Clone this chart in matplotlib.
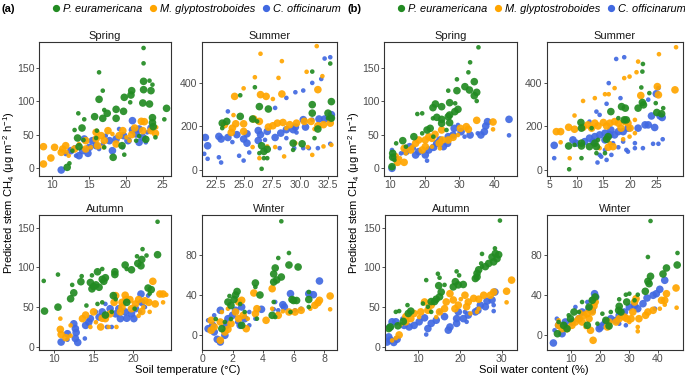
import numpy as np
import matplotlib.pyplot as plt
from matplotlib.lines import Line2D

plt.rcParams['font.family'] = ['Liberation Sans', 'DejaVu Sans']
plt.rcParams['mathtext.fontset'] = 'custom'
plt.rcParams['mathtext.rm'] = 'Liberation Sans'
plt.rcParams['mathtext.it'] = 'Liberation Sans:italic'

species = ['P. euramericana', 'M. glyptostroboides', 'C. officinarum']
colors = ['#228B22', '#FFA500', '#4169E1']
seasons = ['Spring', 'Summer', 'Autumn', 'Winter']

# (x, y, big point?)
# ---- (a) soil temperature ----
a_spring_pe = [(22.4,180,0),(22.4,157,0),(16.4,143.5,0),(22.4,130,1),(23.2,131,0),(23.6,125,0),(22.4,117.5,1),(23.4,116,1),(20.8,116,1),(20.7,109.5,1),(16.9,116,0),(19.8,106,1),(20.6,98.5,0),(16.4,103,1),(22.3,97.5,1),(23.2,96,1),(25.5,89.5,1),(17.1,87,0),(17.5,82,1),(18.7,88,1),(19.7,85,1),(13.6,82,0),(14.4,73,0),(15.8,77,1),(16.9,74.5,1),(18.7,74.5,1),(23.6,75.5,1),(25.2,73,0),(23.6,68,1),(23.7,62,1),(14.1,60,1),(13.1,57,0),(16.1,56,0),(13.5,45,1),(14.3,42,0),(22.7,43,1),(24.0,46,0),(18.3,16,1),(19.8,20,0),(12.1,1,1),(12.4,7,0),(21.4,41,0),(19.5,33.5,1),(17.1,31,0),(12.8,26,0),(13.7,32,1),(21.8,48,0),(16.0,45,0)]
a_spring_mg = [(8.9,32,1),(8.9,6,1),(9.9,15,1),(10.4,31,1),(11.3,23.5,1),(11.5,28.5,1),(11.9,33.5,1),(12.3,18.5,0),(13.1,28.5,1),(14.6,28.5,1),(14.6,41,1),(16.0,43.5,1),(16.0,53.5,1),(16.7,48.5,1),(17.1,41,1),(17.6,56,1),(18.2,51,0),(19.1,48.5,1),(19.6,56,1),(20.1,46,0),(21.2,60,1),(22.1,70,1),(22.5,69.5,1),(22.3,56,1),(23.4,56,1),(24.1,61,0),(24.0,52,1),(15.3,31,0),(17.0,31,0),(13.7,36,0),(18.7,36,1),(20.5,41,0),(16.2,33.5,1),(12.0,24,0),(20.8,50,1)]
a_spring_co = [(11.3,-3,1),(13.7,18.5,1),(12.6,26,1),(14.2,26,1),(15.1,31,1),(14.4,43.5,1),(16.0,33.5,1),(16.9,36,0),(17.8,41,1),(18.7,43.5,1),(19.7,48.5,1),(20.3,41,1),(20.9,71,1),(21.4,51,1),(21.8,58.5,1),(22.3,46,1),(22.9,53.5,0),(23.4,60,1),(19.6,31,0),(18.2,26,1),(16.4,28.5,0),(13.3,18.5,0),(11.9,21,0),(19.1,58.5,0),(20.9,57,1),(17.3,48.5,0),(15.5,41,1),(21.8,38.5,1),(22.7,38.5,0),(14.9,22,1),(13.1,31,0)]

a_summer_pe = [(26.6,5,0),(31.1,452,0),(32.7,489,0),(24.7,343,0),(26.0,380,0),(31.1,300,1),(32.8,314,1),(26.4,291,1),(27.2,280,1),(24.7,246,1),(23.5,223,1),(23.1,215,1),(23.1,192,0),(25.8,234,1),(26.2,223,0),(31.1,261,1),(32.5,261,1),(32.8,238,1),(32.5,238,0),(31.6,188,1),(26.6,111,1),(27.1,95,1),(26.8,85,1),(26.4,77,0),(26.8,54,0),(27.1,54,0),(29.4,123,1),(30.2,120,1),(31.3,146,0),(29.4,92,0)]
a_summer_mg = [(26.5,534,0),(31.5,569,0),(28.4,500,0),(26.0,426,0),(28.1,423,0),(30.6,451,0),(32.0,431,0),(25.0,375,0),(24.2,338,1),(26.5,346,1),(27.0,338,1),(28.4,349,1),(27.6,326,0),(31.6,369,1),(24.1,252,0),(23.3,208,1),(24.0,192,1),(23.9,172,1),(24.3,212,1),(25.0,212,1),(25.0,177,1),(25.9,234,1),(26.4,223,1),(27.2,197,1),(27.6,203,1),(28.0,215,1),(28.5,218,1),(29.1,208,1),(29.7,215,1),(30.4,223,1),(31.0,223,1),(31.6,203,1),(32.1,208,1),(32.7,215,1),(31.3,188,0),(28.8,192,0),(25.8,105,0),(27.1,108,0),(27.8,105,0),(28.6,62,0),(31.1,69,0),(30.7,105,0),(32.1,108,0),(32.8,115,0),(29.6,123,0),(26.4,54,0)]
a_summer_co = [(21.6,149,1),(21.8,111,1),(21.5,74,0),(21.8,51,0),(22.8,154,1),(23.0,142,1),(23.6,149,1),(23.0,34,0),(22.8,58,0),(24.0,128,0),(23.6,269,0),(24.4,162,1),(25.3,166,1),(25.0,142,1),(25.3,123,1),(24.6,65,0),(25.0,43,0),(25.5,80,0),(26.3,181,1),(26.5,162,1),(26.3,135,1),(27.1,177,1),(27.8,149,1),(27.8,285,0),(28.3,169,1),(28.8,185,1),(28.8,331,0),(29.6,357,0),(30.3,365,0),(31.1,400,0),(31.9,418,0),(32.2,512,0),(32.7,518,0),(29.4,185,1),(29.6,197,1),(29.7,172,0),(30.3,231,1),(30.5,197,1),(31.1,231,0),(31.7,234,1),(32.2,234,1),(32.7,234,1),(32.8,254,1),(29.5,100,0),(30.8,100,0),(31.6,100,0),(32.7,120,0),(30.3,100,0),(28.2,100,0),(28.8,146,0),(26.9,138,0)]

a_autumn_pe = [(23.1,157.5,0),(21.2,123,0),(21.7,115,0),(23.1,116,1),(20.5,114,0),(21.1,110,1),(20.6,105,1),(21.0,102,1),(19.0,103,1),(19.2,98,0),(19.8,97,1),(17.7,94.5,1),(17.7,91,1),(16.1,98,0),(15.5,94.5,1),(16.1,85,1),(16.5,87,1),(16.3,82.5,1),(14.8,90,0),(14.6,81,1),(13.5,89,0),(13.4,82,1),(15.3,78,1),(15.0,76,1),(15.7,75,1),(14.8,73,1),(12.5,68,1),(12.3,78,0),(10.5,91,0),(8.7,83,0),(12.1,60.5,1),(10.5,50,1),(8.8,45,1),(21.9,74,1),(22.3,72,1),(22.1,67,0),(14.1,52,0),(15.5,54,0),(16.1,56,0),(17.8,60,0),(17.5,64.5,1),(19.2,56,1),(20.2,48,0),(17.3,44,0),(16.5,40,1)]
a_autumn_mg = [(10.8,35.5,0),(10.8,22,1),(10.9,15.5,1),(11.5,11.5,1),(12.1,14,0),(12.1,27,0),(13.6,35.5,1),(14.0,40,1),(15.0,44,1),(16.1,36,1),(15.9,25,1),(15.3,31,0),(16.5,35.5,1),(17.1,41.5,1),(17.8,64.5,1),(17.6,56,1),(18.6,50,1),(19.0,65,1),(19.1,59.5,1),(18.6,56,1),(19.6,59.5,1),(19.8,48,1),(20.3,54,1),(20.7,59.5,1),(21.5,58,1),(22.0,56,1),(22.5,82.5,1),(23.4,66.5,1),(23.8,66.5,1),(24.2,65.5,0),(23.8,56,0),(22.8,54,1),(22.1,44,0),(21.1,44.5,1),(21.3,50,0),(16.9,25,0),(17.9,25,0),(20.7,39,0),(18.4,44,1),(14.6,25,0)]
a_autumn_co = [(10.9,6,1),(11.7,16.5,1),(11.7,9,0),(12.7,23,1),(12.8,18,1),(12.7,10.5,1),(13.0,5.5,1),(12.5,29,1),(13.9,10.5,0),(14.0,27,1),(14.4,31,1),(14.6,35.5,1),(15.7,37.5,1),(16.1,44,1),(16.7,25,0),(17.3,25,0),(17.1,48,1),(17.8,41.5,1),(18.2,48,1),(18.4,35.5,1),(19.0,44,1),(19.2,36,1),(19.8,41.5,1),(20.3,48,1),(21.0,66.5,1),(21.1,56,1),(21.5,50,0),(20.9,44,0),(20.1,35.5,1),(21.9,64.5,0),(18.8,54,0),(16.5,54,0),(15.3,44,0)]

a_winter_pe = [(5.2,113.7,0),(5.7,82,0),(5.0,77,0),(5.7,70,1),(6.3,68,1),(4.8,67,1),(4.7,61,1),(5.2,58,1),(4.9,55,1),(4.7,53,1),(3.5,52,1),(3.5,48,0),(3.8,40,1),(2.3,43.5,1),(2.2,40,1),(1.8,39,0),(2.1,35.5,1),(1.7,33,1),(1.9,29.5,1),(2.5,31,0),(5.9,35.5,1),(6.0,34.5,1),(6.2,34.5,1),(7.0,35.5,1),(7.0,43,0),(4.7,33,0),(4.6,19.7,1),(4.8,18,0),(5.8,23,0),(3.6,16.3,0),(1.3,6.3,1),(1.5,13,0),(0.9,16,0),(1.9,16,0),(2.6,9.7,1),(2.8,23,0),(7.0,28,0)]
a_winter_mg = [(8.4,39,1),(8.4,25.7,0),(7.7,34.7,1),(7.6,32.3,1),(7.4,29.7,1),(7.1,26.3,0),(6.5,24.7,1),(6.1,23,1),(5.7,23,1),(5.3,23.7,0),(5.0,19.7,1),(4.6,46.3,1),(4.6,26.3,0),(4.2,14.7,1),(3.4,42,1),(3.6,26.3,1),(3.5,21.3,1),(2.9,6.3,1),(2.6,34.7,1),(2.4,33,1),(2.2,23,1),(2.4,16.3,1),(1.9,11.3,1),(1.7,5.7,1),(1.5,3,1),(1.2,13,1),(0.8,8,1),(0.6,14.7,1),(0.6,4.7,1),(1.3,23,0),(1.7,26.3,0),(3.0,16.3,0),(1.2,-5.3,1),(2.7,19.7,1)]
a_winter_co = [(7.7,54,1),(5.8,41.3,1),(7.0,41.3,1),(7.3,40.3,1),(5.3,30.3,1),(5.4,28,1),(4.8,33,0),(3.9,25.7,1),(6.5,26.3,0),(6.1,24.7,0),(1.2,24.7,1),(0.8,19.7,0),(0.4,14.7,0),(0.4,6.3,1),(0.7,9.7,1),(0.8,3,1),(1.0,-4.3,1),(1.2,-7,1),(1.5,-0.3,1),(1.6,9.7,1),(1.7,16.3,1),(2.0,19.7,1),(2.2,24.7,1),(2.6,28,1),(2.8,16.3,1),(3.1,23,0),(2.5,9.7,1),(3.1,9.7,0),(3.5,16.3,0),(2.3,13,0),(5.0,24.7,0),(4.7,25.7,0)]

# ---- (b) soil water content ----
b_spring_pe = [(35.5,181,0),(33.1,158.5,0),(32.6,143.5,0),(29.3,133,0),(34.3,129.5,1),(31.6,122,1),(26.8,116,0),(29.3,116,1),(32.9,117,1),(35.0,113.5,1),(34.3,108.5,1),(35.0,100.5,0),(27.2,98,1),(28.8,97,0),(23.1,96,1),(24.9,92,1),(22.4,90.5,1),(29.6,88,1),(28.7,84.5,1),(27.2,79.5,1),(26.8,77,1),(23.5,76,1),(24.9,73,1),(19.3,82,0),(17.9,81,0),(22.4,74.5,0),(24.9,67,1),(27.2,68,1),(21.6,59.5,1),(20.7,57,1),(19.3,52,0),(16.9,47,1),(13.7,41,1),(11.8,37,0),(14.6,32,0),(10.8,22,1),(10.8,16,1),(10.6,2,1),(11.3,12,0),(26.3,57,0),(22.5,47,0)]
b_spring_mg = [(39.7,69,1),(39.7,58,0),(35.0,71.5,1),(32.0,62,1),(32.6,58,1),(30.3,59.5,1),(29.6,49.5,0),(28.2,46,1),(24.9,57,1),(25.1,42,1),(24.2,37,1),(23.0,50.5,1),(22.1,44.5,1),(21.2,47,1),(20.2,42,1),(20.2,32,1),(19.3,27,1),(18.3,42,1),(17.4,37,1),(16.5,32,0),(16.0,27,1),(14.1,29.5,1),(14.6,22,0),(12.9,14.5,0),(12.2,8.5,1),(14.1,8.5,1),(11.6,17,1),(24.4,29.5,0),(26.8,42,1),(22.1,32,0)]
b_spring_co = [(44.3,73,1),(44.3,49,0),(38.1,69.5,1),(37.6,63,1),(37.2,54.5,1),(36.2,49.5,1),(35.3,52,0),(33.1,49.5,1),(31.5,47,0),(30.5,54.5,1),(28.5,59.5,1),(28.2,49.5,1),(26.8,47,1),(26.6,37,1),(25.4,32,1),(23.5,37,1),(22.6,31,1),(21.2,27,1),(20.2,19.5,1),(20.7,11,0),(18.3,24.5,1),(17.4,19.5,1),(16.9,29.5,0),(15.7,32,1),(14.6,24.5,1),(13.2,22,0),(10.6,-0.5,1),(10.6,27,0),(11.3,16,1),(29.6,64.5,0),(24.4,42,1)]

b_summer_pe = [(22.4,487,0),(22.3,452,0),(8.6,3,0),(22.1,379,0),(23.6,353,0),(22.3,310,1),(22.5,299,1),(21.5,284,1),(24.8,307,0),(26.2,284,0),(25.0,264,1),(25.9,258,1),(19.1,284,1),(18.4,291,1),(16.4,268,1),(18.9,230,1),(19.3,230,1),(17.8,238,0),(10.8,218,1),(12.8,192,0),(10.9,192,1),(8.5,110,1),(10.9,123,1),(10.9,110,1),(12.4,107,1),(13.4,123,1),(13.7,107,1),(14.0,138,0),(15.6,141,1),(15.9,153,1),(10.9,54,0),(9.6,115,0),(13.7,77,0),(15.3,77,0)]
b_summer_mg = [(28.6,564,0),(28.4,368,1),(25.4,532,0),(25.1,383,1),(25.3,345,1),(22.0,342,1),(21.2,449,0),(21.5,498,0),(19.9,429,0),(18.9,422,0),(17.1,376,0),(16.0,348,0),(15.3,348,0),(11.2,317,0),(13.4,330,0),(9.6,250,0),(6.2,176,1),(7.0,176,1),(8.5,196,1),(9.6,187,1),(11.2,196,1),(12.1,207,1),(12.8,192,1),(13.4,215,1),(14.0,202,1),(15.0,218,1),(15.6,202,1),(16.2,215,1),(17.1,222,1),(17.8,215,1),(19.0,222,1),(19.6,215,1),(20.0,192,1),(18.3,192,1),(20.9,230,0),(18.7,141,0),(19.9,153,0),(16.2,123,0),(15.9,104,1),(16.8,107,1),(14.3,100,0),(8.7,54,0),(7.0,127,0),(20.9,169,0)]
b_summer_co = [(17.4,510,0),(18.9,518,0),(16.0,399,0),(25.3,376,0),(24.9,350,1),(23.4,323,0),(18.2,330,0),(15.6,304,0),(13.7,268,0),(12.4,222,0),(14.3,253,0),(5.8,113,1),(5.8,54,0),(9.9,123,1),(9.3,138,1),(11.5,130,1),(12.4,146,1),(13.4,153,1),(14.3,161,1),(13.1,130,1),(15.3,169,1),(16.4,184,1),(16.2,161,1),(17.1,161,1),(15.3,138,1),(17.8,176,1),(18.7,176,1),(19.6,192,1),(21.5,192,1),(22.8,207,1),(24.0,248,1),(25.6,248,1),(26.0,241,1),(24.6,195,1),(23.4,207,1),(15.3,92,0),(14.3,69,0),(14.6,61,0),(15.6,46,0),(13.9,34,0),(16.8,123,0),(17.8,104,0),(19.3,92,0),(19.6,84,0),(20.9,123,0),(20.9,100,0),(22.4,100,0),(24.3,120,0),(25.3,120,0),(26.1,141,0),(18.7,130,0),(16.5,69,0)]

b_autumn_pe = [(29.6,159,0),(28.4,124,0),(28.5,117.5,1),(29.3,116,1),(27.7,113,1),(28.9,111,1),(28.1,107,1),(26.9,105,1),(26.1,101,1),(25.3,101,0),(24.5,97,1),(24.1,92.5,1),(24.1,88,1),(23.7,86,1),(25.1,105,0),(25.3,117,0),(19.2,95,0),(19.8,90,0),(18.9,82,1),(19.6,78,1),(18.4,75.5,1),(20.8,78.5,1),(14.7,92,0),(15.1,87,0),(14.9,77,1),(16.3,78,0),(11.9,84,0),(15.5,69,1),(15.1,63,1),(14.3,60,1),(13.9,57,1),(13.1,57,1),(12.3,50.5,0),(7.4,52.5,0),(11.1,54.5,0),(8.2,45,1),(7.6,42,1),(4.6,44,0),(5.4,45,0),(6.4,32,1),(5.1,26.5,1),(3.3,25,1),(2.9,23,1),(13.1,44,0)]
b_autumn_mg = [(32.4,84,1),(31.2,70,1),(31.2,56,0),(28.1,69,1),(27.3,65,1),(25.7,65,1),(24.5,60,1),(23.3,61,1),(22.0,56.5,1),(21.6,50.5,1),(21.2,65,1),(20.2,60,0),(19.6,52.5,1),(18.8,48,1),(18.4,59,1),(17.6,67,1),(16.7,56.5,1),(16.3,48,1),(15.1,44,1),(14.3,37.5,0),(13.1,52.5,1),(12.3,46,1),(11.5,56.5,1),(10.6,44,1),(10.2,37.5,0),(9.0,42,1),(8.2,35.5,1),(7.0,38,1),(7.0,31.5,1),(5.8,28,0),(5.4,15,1),(4.6,11,0),(3.7,8,0),(24.5,48,0),(24.1,44,0),(22.5,42,0)]
b_autumn_co = [(28.4,69,1),(27.7,59,1),(28.1,52.5,0),(28.1,45,0),(26.5,57.5,1),(26.1,50.5,1),(24.9,52.5,1),(24.3,46,1),(23.7,44,1),(22.0,40,1),(21.6,31.5,0),(20.8,35.5,1),(19.6,44,1),(19.2,35.5,1),(19.2,29.5,1),(17.6,25,1),(17.2,21,1),(16.3,38,1),(14.3,33.5,1),(13.1,29.5,1),(12.3,23,1),(11.9,15.5,0),(11.5,36.5,1),(10.2,31.5,1),(9.0,27,1),(7.8,25,1),(6.6,27,1),(6.2,35.5,0),(4.6,31.5,1),(3.7,31.5,1),(3.2,25,1),(2.9,12.5,1),(3.3,8.5,1),(4.1,5.5,1),(4.9,9.5,1),(2.5,6,1),(15.1,44,0),(21.2,44,0)]

b_winter_pe = [(37.4,114,0),(46.7,82,0),(36.5,78,0),(46.6,70,1),(42.9,67,1),(41.7,61,1),(37.4,58.7,1),(36.5,53.7,1),(36.9,51.3,1),(35.6,43.7,1),(33.0,40.3,0),(30.1,41.3,0),(28.9,40.3,0),(29.2,33,1),(26.6,35.7,0),(31.9,34.7,0),(26.6,28.7,1),(26.4,24.7,1),(27.2,23,1),(23.7,23,0),(22.0,14.7,1),(23.1,9,1),(20.8,21.3,0),(18.3,38,1),(17.3,34.7,1),(13.8,33,0),(16.2,28,1),(12.7,23,0),(11.0,23,1),(9.8,16.3,1),(9.2,19.7,0),(7.4,9.7,1),(5.7,13,0),(5.3,1.3,1),(8.6,6.3,1),(15.6,9.7,1),(19.1,11.3,0)]
b_winter_mg = [(46.2,47,1),(46.4,27.3,0),(42.9,41.3,1),(42.3,34.7,1),(41.2,34.7,1),(42.3,30.3,0),(40.6,26.3,0),(38.3,24.7,1),(36.5,23,1),(35.7,19.7,1),(33.4,16.3,1),(32.4,36.3,1),(31.9,33,1),(31.3,23,1),(30.7,16.3,1),(29.2,16.3,1),(28.4,18,1),(26.6,16.3,1),(25.5,13,1),(23.1,13,1),(22.5,8,1),(33.0,8,0),(33.0,3.7,0),(30.1,13,0),(17.6,-5.3,1),(16.7,4.7,1),(18.3,33,1),(17.9,29,1),(17.3,23,1),(15.6,21.3,1),(14.4,19.7,1),(12.7,16.3,1),(11.5,13,1),(10.3,9.7,1),(8.6,6.3,1),(6.9,6.3,1),(5.7,9.7,1),(5.7,14.7,0),(13.8,13,1),(16.2,16.3,1),(15.0,8,0),(13.2,23,0)]
b_winter_co = [(42.3,54.7,1),(40.6,45.7,1),(39.4,41.3,1),(38.3,39.7,1),(36.2,37,1),(34.8,31.3,1),(33.0,26.3,1),(31.9,29.7,1),(30.1,28,1),(38.9,26.3,0),(28.4,23,1),(26.6,19.7,1),(25.5,14.7,1),(23.7,16.3,1),(22.0,13,1),(20.2,8,1),(19.7,6.3,1),(20.8,11.3,0),(26.6,11.3,0),(28.9,9.7,0),(18.1,41.3,1),(18.5,38,1),(17.6,34.7,1),(15.6,33,0),(17.3,24.7,1),(16.2,26.3,1),(13.8,23,1),(11.5,28,0),(12.7,16.3,1),(10.3,13,1),(8.0,13,1),(8.0,8,1),(6.9,1.3,1),(4.3,4.7,0),(3.9,-8,1),(5.1,16.3,0),(5.7,9.7,1)]

data_a = [(a_spring_pe, a_spring_mg, a_spring_co), (a_summer_pe, a_summer_mg, a_summer_co),
          (a_autumn_pe, a_autumn_mg, a_autumn_co), (a_winter_pe, a_winter_mg, a_winter_co)]
data_b = [(b_spring_pe, b_spring_mg, b_spring_co), (b_summer_pe, b_summer_mg, b_summer_co),
          (b_autumn_pe, b_autumn_mg, b_autumn_co), (b_winter_pe, b_winter_mg, b_winter_co)]

# panel boxes in pixels: left, right, top, bottom
W, H = 685, 376
boxes_a = [(39, 171, 42, 176), (202, 337, 42, 176), (39, 171, 215, 350), (202, 337, 215, 350)]
boxes_b = [(384, 517, 42, 176), (547, 683, 42, 176), (385, 517, 215, 350), (547, 683, 215, 350)]

lims_a = [((8.3, 26.1), (-12, 189)), ((21.3, 33.3), (-28, 588)), ((8.1, 24.8), (-4, 166)), ((0.0, 8.85), (-15, 120))]
lims_b = [((8.3, 46.6), (-12, 189)), ((4.45, 29.9), (-28, 588)), ((2.0, 33.7), (-4, 166)), ((1.7, 48.6), (-15, 120))]
xt_a = [[10, 15, 20, 25], [22.5, 25.0, 27.5, 30.0, 32.5], [10, 15, 20], [0, 2, 4, 6, 8]]
xt_b = [[10, 20, 30, 40], [5, 10, 15, 20, 25], [10, 20, 30], [10, 20, 30, 40]]
yt = [[0, 50, 100, 150], [0, 200, 400], [0, 50, 100, 150], [0, 40, 80]]

fig = plt.figure(figsize=(W / 100, H / 100), dpi=100)


def draw_panel(box, pts, lims, xticks, yticks, title, fmt=None):
    l, r, t, b = box
    ax = fig.add_axes([l / W, 1 - b / H, (r - l) / W, (b - t) / H])
    for sp in (2, 1, 0):
        arr = np.array(pts[sp], dtype=float)
        ax.scatter(arr[:, 0], arr[:, 1], s=np.where(arr[:, 2] > 0, 30, 11),
                   color=colors[sp], alpha=0.92, linewidths=0)
    ax.set_xlim(*lims[0])
    ax.set_ylim(*lims[1])
    ax.set_xticks(xticks)
    if fmt:
        ax.set_xticklabels([fmt.format(v) for v in xticks])
    ax.set_yticks(yticks)
    ax.tick_params(labelsize=7.6, colors='#333333', labelcolor='#4D4D4D',
                   length=2.2, width=0.6, pad=1.0)
    for s in ax.spines.values():
        s.set_color('#333333')
        s.set_linewidth(0.8)
    ax.set_title(title, fontsize=8, pad=2.5, color='#1A1A1A')
    return ax


for i in range(4):
    draw_panel(boxes_a[i], data_a[i], lims_a[i], xt_a[i], yt[i], seasons[i],
               '{:.1f}' if i == 1 else None)
    draw_panel(boxes_b[i], data_b[i], lims_b[i], xt_b[i], yt[i], seasons[i])

ylab = 'Predicted stem CH$_4$ (μg m$^{-2}$ h$^{-1}$)'
fig.text(9 / W, 1 - 193 / H, ylab, rotation=90, ha='center', va='center', fontsize=8)
fig.text(354 / W, 1 - 193 / H, ylab, rotation=90, ha='center', va='center', fontsize=8)
fig.text(188 / W, 1 - 370 / H, 'Soil temperature (°C)', ha='center', va='center', fontsize=8)
fig.text(534 / W, 1 - 370 / H, 'Soil water content (%)', ha='center', va='center', fontsize=8)

fig.text(2 / W, 1 - 9 / H, '(a)', fontweight='bold', ha='left', va='center', fontsize=8)
fig.text(348 / W, 1 - 9 / H, '(b)', fontweight='bold', ha='left', va='center', fontsize=8)

handles = [Line2D([], [], marker='o', ls='', color=c, markersize=4.2) for c in colors]
for xc in (195, 540):
    fig.legend(handles, species, loc='center', bbox_to_anchor=(xc / W, 1 - 9 / H), ncol=3,
               frameon=False, prop={'style': 'italic', 'size': 7.9}, handletextpad=0.0,
               columnspacing=0.4, handlelength=1.2, borderaxespad=0, borderpad=0)

fig.savefig('out.png', dpi=100)
